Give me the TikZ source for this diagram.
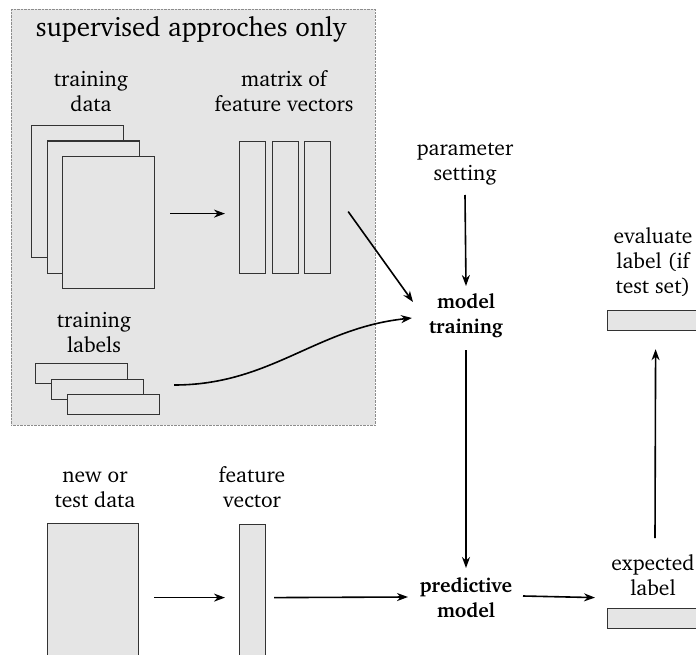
\documentclass[tikz,border=0pt]{standalone}
\usepackage[T1]{fontenc}
\usepackage{charter}
\usetikzlibrary{calc,arrows.meta}

\definecolor{boxgray}{gray}{0.9}
\definecolor{panelgray}{gray}{0.9}

\tikzset{
	box/.style={draw=black!80, fill=boxgray, line width=1.2pt, inner sep=0pt, anchor=north west},
	page/.style={box, minimum width=92pt, minimum height=132pt},
	strip/.style={box, minimum width=92pt, minimum height=20pt},
	column/.style={box, minimum width=26pt, minimum height=132pt},
	lbl/.style={align=center, inner sep=0pt, anchor=base, font=\fontsize{21.5}{25}\selectfont},
	keylbl/.style={lbl, font=\fontsize{20}{25}\selectfont\bfseries},
	conn/.style={-{Stealth[length=11pt, width=8pt, inset=3.5pt]}, line width=1.6pt},
}

\begin{document}
\begin{tikzpicture}[x=1pt, y=-1pt]
	\useasboundingbox[fill=white] (0,0) rectangle (696,655);

	% supervised part
	\node[draw=black!45, densely dotted, fill=panelgray, anchor=north west,
		minimum width=364pt, minimum height=416pt] (supervised) at (11,9) {};
	\node[lbl, font=\fontsize{27}{32}\selectfont] (suptitle) at (191,37) {supervised approches only};

	\node[lbl] (datalbl) at (91,112) {training\\data};
	\foreach \i in {1,2,3}
		\node[page] (data\i) at ({31+15.5*(\i-1)},{125+15.5*(\i-1)}) {};

	\node[lbl] (matrixlbl) at (284,112) {matrix of\\feature vectors};
	\foreach \i/\x in {1/239, 2/272, 3/304}
		\node[column] (vec\i) at (\x,141) {};

	\node[lbl] (labelslbl) at (94,352) {training\\labels};
	\foreach \i in {1,2,3}
		\node[strip] (lab\i) at ({35+16*(\i-1)},{363+15.5*(\i-1)}) {};

	% new data
	\node[lbl] (newlbl) at (95,507) {new or\\test data};
	\node[box, minimum width=91pt, minimum height=132pt] (newdata) at (47,523) {};
	\node[lbl] (fveclbl) at (252,507) {feature\\vector};
	\node[column] (fvec) at (239,524) {};

	% model
	\node[lbl] (param) at (465,181) {parameter\\setting};
	\node[keylbl] (train) at (466,333) {model\\training};
	\node[keylbl] (predict) at (466,617) {predictive\\model};

	% labels
	\node[lbl] (evallbl) at (653,293) {evaluate\\label (if\\test set)};
	\node[strip] (evalbox) at (607,310) {};
	\node[lbl] (explbl) at (653,595) {expected\\label};
	\node[strip] (expbox) at (607,608) {};

	\draw[conn] ($(data3.east)+(15,-9)$) -- ($(vec1.west)+(-14,6)$);
	\draw[conn] ($(vec3.east)+(17,4)$) -- ($(train.base)+(-53,-31)$);
	\draw[conn] ($(lab3.north east)+(14,-9)$) to[out=0, in=186] ($(train.base)+(-54,-15)$);
	\draw[conn] ($(param.base)+(0,14)$) -- ($(train.base)+(0,-47)$);
	\draw[conn] ($(train.base)+(0,17)$) -- ($(predict.base)+(0,-49)$);
	\draw[conn] ($(newdata.east)+(15,8)$) -- ($(fvec.west)+(-14,7)$);
	\draw[conn] ($(fvec.east)+(8,7)$) -- ($(predict.base)+(-58,-20)$);
	\draw[conn] ($(predict.base)+(57,-21)$) -- ($(expbox.west)+(-12,-21)$);
	\draw[conn] ($(explbl.base)+(2,-57)$) -- ($(evalbox.south)+(2,18)$);
\end{tikzpicture}
\end{document}
